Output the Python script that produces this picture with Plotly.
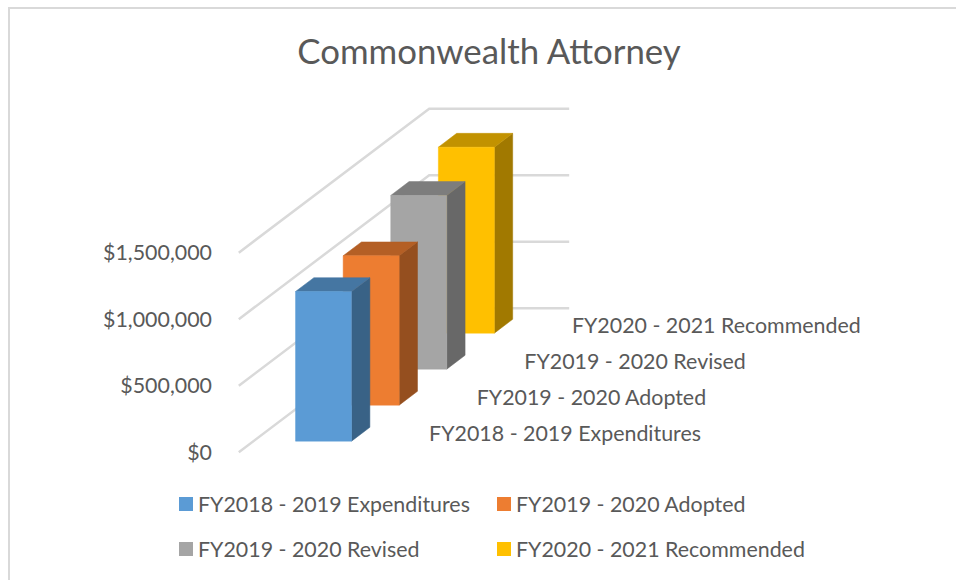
import plotly.graph_objects as go

# ---- data ----
categories = ["FY2018 - 2019 Expenditures", "FY2019 - 2020 Adopted",
              "FY2019 - 2020 Revised", "FY2020 - 2021 Recommended"]
values = [1124000, 1122000, 1305000, 1397000]
y_ticks = [0, 500000, 1000000, 1500000]
y_tick_labels = ["$0", "$500,000", "$1,000,000", "$1,500,000"]
title_text = "Commonwealth Attorney"

# ---- styles ----
front_colors = ["#5B9BD5", "#ED7D31", "#A5A5A5", "#FFC000"]
top_colors = ["#4576A2", "#B45F25", "#7D7D7D", "#C29200"]
side_colors = ["#396286", "#954F1F", "#686868", "#A17900"]
TXT = "#595959"
GRID = "#D9D9D9"
FONT = "Lato"
LABEL_SIZE = 21.4

# ---- oblique projection of the 3D column chart ----
W, H = 956, 580
M_L, M_R, M_T, M_B = 213, 40, 60, 110
ZERO_PX = 452.3          # page y of the value 0 at the front of the floor
PX_PER_DOLLAR = 66.55 / 500000
FLOOR_X0 = 238.8         # page x of the front-left corner of the floor
FLOOR_W = 140.0          # floor width
DEPTH_DX, DEPTH_DY = 47.6, 36.0   # shift per category going back
BAR_W = 0.40             # share of floor width
BAR_D = 0.385            # share of one depth slot


def proj(u, depth, value):
    """u: 0-1 across the floor, depth: 0-n going back, value in dollars."""
    x = FLOOR_X0 + u * FLOOR_W + depth * DEPTH_DX
    y = value + depth * DEPTH_DY / PX_PER_DOLLAR
    return x, y


def poly(points):
    xy = [proj(*p) for p in points]
    xs = [p[0] for p in xy] + [xy[0][0]]
    ys = [p[1] for p in xy] + [xy[0][1]]
    return xs, ys


fig = go.Figure()
n = len(categories)

# wall / floor gridlines
for t in y_ticks:
    xs, ys = zip(*[proj(0, 0, t), proj(0, n, t), proj(1, n, t)])
    fig.add_trace(go.Scatter(x=xs, y=ys, mode="lines", showlegend=False, hoverinfo="skip",
                             line=dict(color=GRID, width=2.5)))

# columns, back to front
u0, u1 = (1 - BAR_W) / 2, (1 + BAR_W) / 2
for i in reversed(range(n)):
    v = values[i]
    d0 = i + 0.31
    d1 = d0 + BAR_D
    faces = [
        ([(u1, d0, 0), (u1, d1, 0), (u1, d1, v), (u1, d0, v)], side_colors[i]),
        ([(u0, d0, v), (u1, d0, v), (u1, d1, v), (u0, d1, v)], top_colors[i]),
        ([(u0, d0, 0), (u1, d0, 0), (u1, d0, v), (u0, d0, v)], front_colors[i]),
    ]
    for pts, col in faces:
        xs, ys = poly(pts)
        fig.add_trace(go.Scatter(x=xs, y=ys, mode="lines", fill="toself", fillcolor=col,
                                 line=dict(color=col, width=0.5), showlegend=False,
                                 name=categories[i], hoverinfo="name"))

# depth-axis category labels
LABEL_GAP = 26.5
LABEL_DROP = -1 / PX_PER_DOLLAR
lab = [proj(1, i + 0.5, 0) for i in range(n)]
fig.add_trace(go.Scatter(x=[p[0] + LABEL_GAP for p in lab], y=[p[1] + LABEL_DROP for p in lab],
                         mode="text", text=categories, textposition="middle right",
                         textfont=dict(family=FONT, size=LABEL_SIZE, color=TXT),
                         showlegend=False, hoverinfo="skip", cliponaxis=False))

# legend entries: one small legend per entry, laid out in two rows and two columns
legend_ids = ["legend", "legend2", "legend3", "legend4"]
for i in range(n):
    fig.add_trace(go.Scatter(x=[None], y=[None], mode="markers", name=categories[i],
                             marker=dict(symbol="square", size=14, color=front_colors[i]),
                             legend=legend_ids[i]))

legend_common = dict(orientation="v", xanchor="left", yanchor="middle", itemsizing="trace",
                     font=dict(family=FONT, size=LABEL_SIZE, color=TXT),
                     bgcolor="rgba(0,0,0,0)", borderwidth=0, itemwidth=30)

to_paper_x = lambda px: (px - M_L) / (W - M_L - M_R)
to_paper_y = lambda py: (H - M_B - py) / (H - M_T - M_B)

legend_cols = [158, 476]
legend_rows = [504, 549]

fig.update_layout(
    width=W, height=H,
    margin=dict(l=M_L, r=M_R, t=M_T, b=M_B, autoexpand=False),
    paper_bgcolor="white", plot_bgcolor="white",
    font=dict(family=FONT, color=TXT),
    title=dict(text=title_text, x=489 / W, xanchor="center", y=1 - 52 / H, yanchor="middle",
               font=dict(family=FONT, size=34.8, color=TXT)),
    xaxis=dict(visible=False, range=[M_L, W - M_R], fixedrange=True),
    yaxis=dict(range=[(ZERO_PX - (H - M_B)) / PX_PER_DOLLAR, (ZERO_PX - M_T) / PX_PER_DOLLAR],
               tickvals=y_ticks, ticktext=y_tick_labels, showgrid=False, zeroline=False,
               showline=False, ticks="", fixedrange=True,
               tickfont=dict(family=FONT, size=LABEL_SIZE, color=TXT)),
    legend=dict(x=to_paper_x(legend_cols[0]), y=to_paper_y(legend_rows[0]), **legend_common),
    legend2=dict(x=to_paper_x(legend_cols[1]), y=to_paper_y(legend_rows[0]), **legend_common),
    legend3=dict(x=to_paper_x(legend_cols[0]), y=to_paper_y(legend_rows[1]), **legend_common),
    legend4=dict(x=to_paper_x(legend_cols[1]), y=to_paper_y(legend_rows[1]), **legend_common),
    shapes=[
        dict(type="line", xref="paper", yref="paper", x0=to_paper_x(9), x1=to_paper_x(9),
             y0=to_paper_y(8), y1=to_paper_y(H), line=dict(color=GRID, width=2)),
        dict(type="line", xref="paper", yref="paper", x0=to_paper_x(8), x1=to_paper_x(W),
             y0=to_paper_y(8), y1=to_paper_y(8), line=dict(color=GRID, width=2)),
    ],
)

# the reference keeps its legend swatches closer to their text than plotly's minimum item width
post = """
document.body.style.margin='0';document.body.style.overflow='hidden';
document.querySelectorAll('.legendsymbols').forEach(function(g){g.setAttribute('transform','translate(8,0)');});
"""
fig.write_html("out.html", config={"displayModeBar": False}, post_script=post)
